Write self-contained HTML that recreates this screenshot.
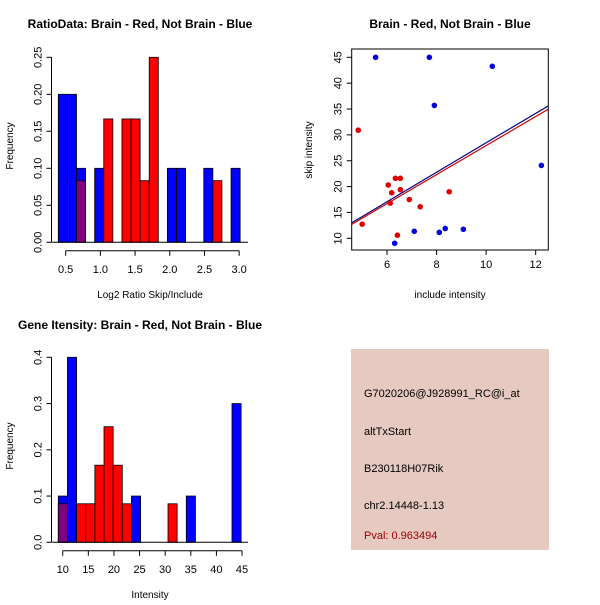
<!DOCTYPE html>
<html><head><meta charset="utf-8"><style>
body{margin:0;background:#fff}
svg text{font-family:"Liberation Sans",sans-serif}
</style></head><body>
<svg id="s" width="600" height="600" xmlns="http://www.w3.org/2000/svg">
<rect x="351" y="349" width="198" height="201" fill="#e6c9c1"/>
<text x="364" y="397" font-size="11">G7020206@J928991_RC@i_at</text>
<text x="364" y="435" font-size="11">altTxStart</text>
<text x="364" y="472" font-size="11">B230118H07Rik</text>
<text x="364" y="509" font-size="11">chr2.14448-1.13</text>
<text x="364" y="539" font-size="11" fill="#a00000">Pval: 0.963494</text>
</svg>
<script>
// ---- data: ratio histogram
const ratioBinStart = 0.394, ratioBinWidth = 0.131;
const ratioBlueBins = [0,1,2,4,12,13,16,19];
const ratioBlueFreq = [0.2,0.2,0.1,0.1,0.1,0.1,0.1,0.1];
const ratioRedBins = [2,5,7,8,9,10,17];
const ratioRedFreq = [0.0833,0.1667,0.1667,0.1667,0.0833,0.25,0.0833];
const ratioXTicks = [0.5,1.0,1.5,2.0,2.5,3.0];
const ratioXTickLabels = ["0.5","1.0","1.5","2.0","2.5","3.0"];
const ratioYTicks = [0,0.05,0.10,0.15,0.20,0.25];
const ratioYTickLabels = ["0.00","0.05","0.10","0.15","0.20","0.25"];
// ---- data: intensity histogram
const intBinStart = 9.14, intBinWidth = 1.784;
const intBlueBins = [0,1,8,14,19];
const intBlueFreq = [0.1,0.4,0.1,0.1,0.3];
const intRedBins = [0,2,3,4,5,6,7,12];
const intRedFreq = [0.0833,0.0833,0.0833,0.1667,0.25,0.1667,0.0833,0.0833];
const intXTicks = [10,15,20,25,30,35,40,45];
const intYTicks = [0,0.1,0.2,0.3,0.4];
const intYTickLabels = ["0.0","0.1","0.2","0.3","0.4"];
// ---- data: scatter
const blueX = [5.54,7.71,10.25,7.91,12.23,6.31,7.10,8.11,8.35,9.08];
const blueY = [45,45,43.26,35.7,24.1,9.03,11.35,11.15,11.9,11.74];
const redX = [4.84,5.0,6.05,6.19,6.13,6.34,6.54,6.54,6.42,6.90,7.34,8.51];
const redY = [30.9,12.74,20.3,18.8,16.8,21.6,21.6,19.4,10.6,17.5,16.1,19.0];
const blueFit = [-0.04,2.85]; // intercept, slope
const redFit = [-0.14,2.807];
const scXTicks = [6,8,10,12];
const scYTicks = [10,15,20,25,30,35,40,45];

const svg=document.getElementById('s');
const NS='http://www.w3.org/2000/svg';
function mk(tag,attrs,name){const e=document.createElementNS(NS,tag);for(const k in attrs)e.setAttribute(k,attrs[k]);


svg.appendChild(e);return e;}
function txt(x,y,s,name,opts){const e=mk('text',Object.assign({x:x,y:y,'font-size':11,'text-anchor':'middle'},opts||{}),name);e.textContent=s;return e;}

function hist(cfg){
  const sx=v=>cfg.px0+(v-cfg.xv0)*cfg.xs, sy=v=>cfg.y0-v*cfg.ys;
  const nb=Math.max(...cfg.bb,...cfg.rb)+1;
  for(let i=0;i<nb;i++){
    const bi=cfg.bb.indexOf(i), ri=cfg.rb.indexOf(i);
    const b=bi>=0?cfg.bf[bi]:0, r=ri>=0?cfg.rf[ri]:0;
    const l=sx(cfg.bs+i*cfg.bw), w=cfg.bw*cfg.xs;
    if(b>0||r>0){
      const hi=Math.max(b,r), lo=Math.min(b,r);
      mk('rect',{x:l,y:sy(hi),width:w,height:sy(0)-sy(hi),fill:b>=r?'#0000ff':'#ff0000',stroke:'#000','stroke-width':0.8},'bar-'+cfg.id+'-'+i);
      if(lo>0) mk('rect',{x:l,y:sy(lo),width:w,height:sy(0)-sy(lo),fill:'#800080',stroke:'#000','stroke-width':0.8},'overlap-bar-'+cfg.id+'-'+i);
    }
  }
  mk('line',{x1:cfg.x0,x2:248,y1:sy(0),y2:sy(0),stroke:'#000'},'baseline-'+cfg.id);
  const ay=sy(0)+8.5;
  mk('line',{x1:sx(cfg.xt[0]),x2:sx(cfg.xt[cfg.xt.length-1]),y1:ay,y2:ay,stroke:'#000'},'x-axis-'+cfg.id);
  cfg.xt.forEach((t,i)=>{mk('line',{x1:sx(t),x2:sx(t),y1:ay,y2:ay+5,stroke:'#000'},'x-tick');txt(sx(t),ay+22,cfg.xl[i],'x-tick-label');});
  const ax=cfg.x0-0.5;
  mk('line',{x1:ax,x2:ax,y1:sy(cfg.yt[0]),y2:sy(cfg.yt[cfg.yt.length-1]),stroke:'#000'},'y-axis-'+cfg.id);
  cfg.yt.forEach((t,i)=>{mk('line',{x1:ax,x2:ax-5,y1:sy(t),y2:sy(t),stroke:'#000'},'y-tick');
    txt(ax-10,sy(t),cfg.yl[i],'y-tick-label',{transform:`rotate(-90 ${ax-10} ${sy(t)})`});});
  txt(140,cfg.ty,cfg.title,'chart-title',{'font-weight':'bold','font-size':12});
  txt(150,cfg.xly,cfg.xlab,'x-axis-title',{'font-size':10});
  txt(13,cfg.yly,'Frequency','y-axis-title',{'font-size':10,transform:`rotate(-90 13 ${cfg.yly})`});
}
hist({id:'ratio',x0:52,px0:58.3,xv0:0.394,xs:69.4,y0:242.3,ys:740,bs:ratioBinStart,bw:ratioBinWidth,bb:ratioBlueBins,bf:ratioBlueFreq,rb:ratioRedBins,rf:ratioRedFreq,
  xt:ratioXTicks,xl:ratioXTickLabels,yt:ratioYTicks,yl:ratioYTickLabels,ty:28,title:'RatioData: Brain - Red, Not Brain - Blue',xlab:'Log2 Ratio Skip/Include',xly:298,yly:146});
hist({id:'int',x0:52,px0:58.3,xv0:9.14,xs:5.124,y0:542.3,ys:462.5,bs:intBinStart,bw:intBinWidth,bb:intBlueBins,bf:intBlueFreq,rb:intRedBins,rf:intRedFreq,
  xt:intXTicks,xl:intXTicks.map(String),yt:intYTicks,yl:intYTickLabels,ty:329,title:'Gene Itensity: Brain - Red, Not Brain - Blue',xlab:'Intensity',xly:598,yly:446});

// scatter
(function(){
  const L=351.7,R=548.3,T=49,B=250;
  const sx=v=>387+(v-6)*24.78, sy=v=>238.3-(v-10)*5.171;
  mk('rect',{x:L,y:T,width:R-L,height:B-T,fill:'none',stroke:'#000'},'scatter-frame');
  const cp=mk('clipPath',{id:'cp'},'clip');const cr=document.createElementNS(NS,'rect');
  cr.setAttribute('x',L);cr.setAttribute('y',T);cr.setAttribute('width',R-L);cr.setAttribute('height',B-T);cp.appendChild(cr);
  const xa=4.575,xb=12.51;
  mk('line',{x1:sx(xa),y1:sy(blueFit[0]+blueFit[1]*xa),x2:sx(xb),y2:sy(blueFit[0]+blueFit[1]*xb),stroke:'#000080','stroke-width':1.2,'clip-path':'url(#cp)'},'blue-fit-line');
  mk('line',{x1:sx(xa),y1:sy(redFit[0]+redFit[1]*xa),x2:sx(xb),y2:sy(redFit[0]+redFit[1]*xb),stroke:'#cc0000','stroke-width':1.2,'clip-path':'url(#cp)'},'red-fit-line');
  blueX.forEach((x,i)=>mk('circle',{cx:sx(x),cy:sy(blueY[i]),r:2.8,fill:'#0000e0'},'blue-point'));
  redX.forEach((x,i)=>mk('circle',{cx:sx(x),cy:sy(redY[i]),r:2.8,fill:'#e00000'},'red-point'));
  scXTicks.forEach(t=>{mk('line',{x1:sx(t),x2:sx(t),y1:B,y2:B+5,stroke:'#000'},'x-tick');txt(sx(t),B+18,String(t),'x-tick-label');});
  scYTicks.forEach(t=>{mk('line',{x1:L,x2:L-5,y1:sy(t),y2:sy(t),stroke:'#000'},'y-tick');
    txt(L-10,sy(t),String(t),'y-tick-label',{transform:`rotate(-90 ${L-10} ${sy(t)})`});});
  txt(450,28,'Brain - Red, Not Brain - Blue','scatter-title',{'font-weight':'bold','font-size':12});
  txt(450,298,'include intensity','x-axis-title',{'font-size':10});
  txt(312,150,'skip intensity','y-axis-title',{'font-size':10,transform:'rotate(-90 312 150)'});
})();
</script>
</body></html>
